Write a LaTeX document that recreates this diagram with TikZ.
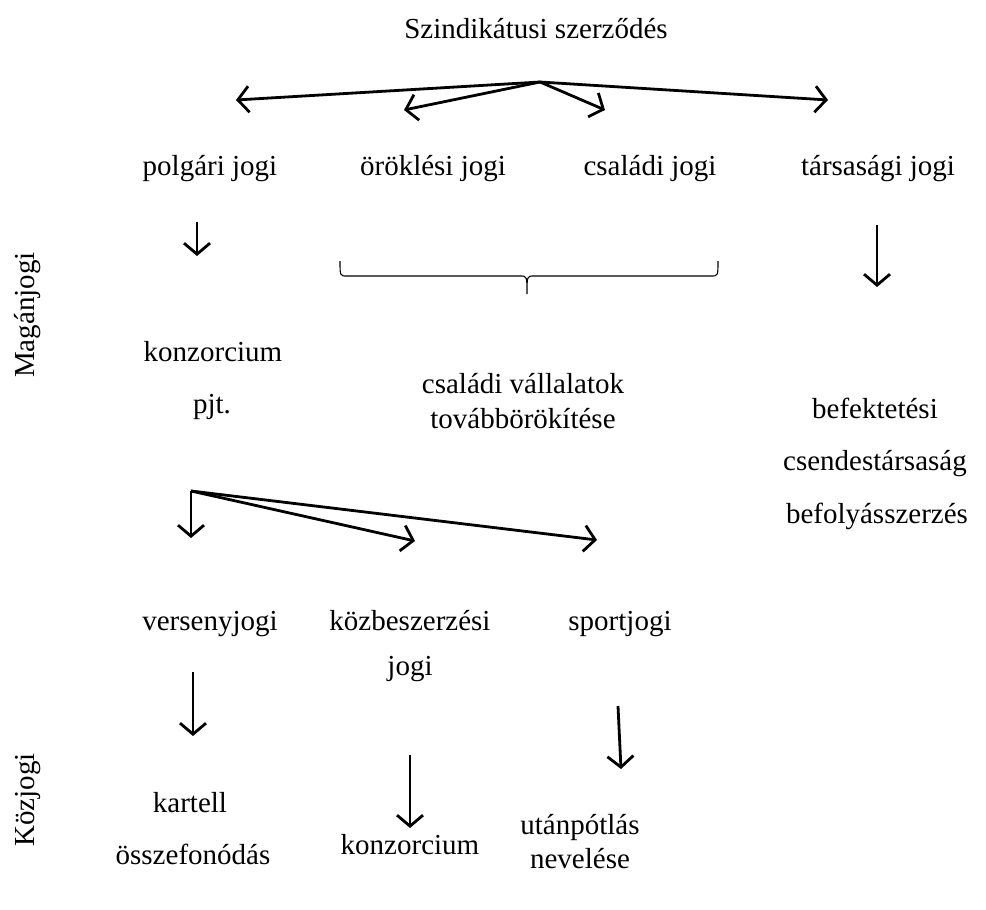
\documentclass[tikz,border=0pt]{standalone}
\usepackage{fontspec}
\setmainfont{Liberation Serif}
\usetikzlibrary{arrows.meta}
\tikzstyle{arrow} = [line width=2.8pt,-{Straight Barb[length=11pt,width=26pt,line width=2.8pt]}]
\tikzstyle{label} = [inner sep=0pt,text height=19pt,text depth=6pt,font=\fontsize{29}{35}\selectfont]
\tikzstyle{brace} = [line width=1.1pt]

\begin{document}
\begin{tikzpicture}[x=1pt,y=-1pt]
  \useasboundingbox (0,0) rectangle (986,910);
  % title and first row
  \node[label] (title) at (536,32) {Szindikátusi szerződés};
  \node[label] (polg) at (210,169) {polgári jogi};
  \node[label] (orok) at (433,169) {öröklési jogi};
  \node[label] (csal) at (650,169) {családi jogi};
  \node[label] (tars) at (878,169) {társasági jogi};
  \coordinate (top) at (540,82);
  \coordinate (e1) at (236,100);
  \coordinate (e2) at (404,110);
  \coordinate (e3) at (605,110);
  \coordinate (e4) at (828,100);
  \draw[arrow] (top) -- (e1);
  \draw[arrow] (top) -- (e2);
  \draw[arrow] (top) -- (e3);
  \draw[arrow] (top) -- (e4);
  % maganjog
  \node[label,rotate=90] (magan) at (28,315) {Magánjogi};
  \node[label] (konz) at (213,355) {konzorcium};
  \node[label] (pjt) at (212,407) {pjt.};
  \node[label] (csv1) at (523,387) {családi vállalatok};
  \node[label] (csv2) at (523,422) {továbbörökítése};
  \node[label] (bef1) at (875,412) {befektetési};
  \node[label] (bef2) at (875,464) {csendestársaság};
  \node[label] (bef3) at (877,517) {befolyásszerzés};
  \coordinate (a1) at (197,222);
  \coordinate (a2) at (197,256);
  \coordinate (b1) at (877,225);
  \coordinate (b2) at (877,287);
  \draw[arrow] (a1) -- (a2);
  \draw[arrow] (b1) -- (b2);
  \coordinate (br1) at (340,261);
  \coordinate (br2) at (718,261);
  \coordinate (brtip) at (527,294);
  \draw[brace] (br1) .. controls (340,276) .. (347,276) -- (520,276)
    .. controls (527,276) .. (brtip) .. controls (527,276) .. (534,276)
    -- (711,276) .. controls (718,276) .. (br2);
  % kozjog
  \coordinate (mid) at (191,491);
  \coordinate (m1) at (191,538);
  \coordinate (m2) at (415,541);
  \coordinate (m3) at (597,540);
  \draw[arrow] (mid) -- (m1);
  \draw[arrow] (mid) -- (m2);
  \draw[arrow] (mid) -- (m3);
  \node[label] (vers) at (210,624) {versenyjogi};
  \node[label] (kozb1) at (410,624) {közbeszerzési};
  \node[label] (kozb2) at (410,669) {jogi};
  \node[label] (sport) at (620,624) {sportjogi};
  \node[label,rotate=90] (koz) at (28,800) {Közjogi};
  \node[label] (kart) at (190,806) {kartell};
  \node[label] (ossz) at (193,858) {összefonódás};
  \node[label] (konz2) at (410,848) {konzorcium};
  \node[label] (utan1) at (580,828) {utánpótlás};
  \node[label] (utan2) at (580,862) {nevelése};
  \coordinate (v1) at (193,672);
  \coordinate (v2) at (193,736);
  \coordinate (k1) at (410,755);
  \coordinate (k2) at (410,828);
  \coordinate (s1) at (618,706);
  \coordinate (s2) at (621,769);
  \draw[arrow] (v1) -- (v2);
  \draw[arrow] (k1) -- (k2);
  \draw[arrow] (s1) -- (s2);
\end{tikzpicture}
\end{document}
